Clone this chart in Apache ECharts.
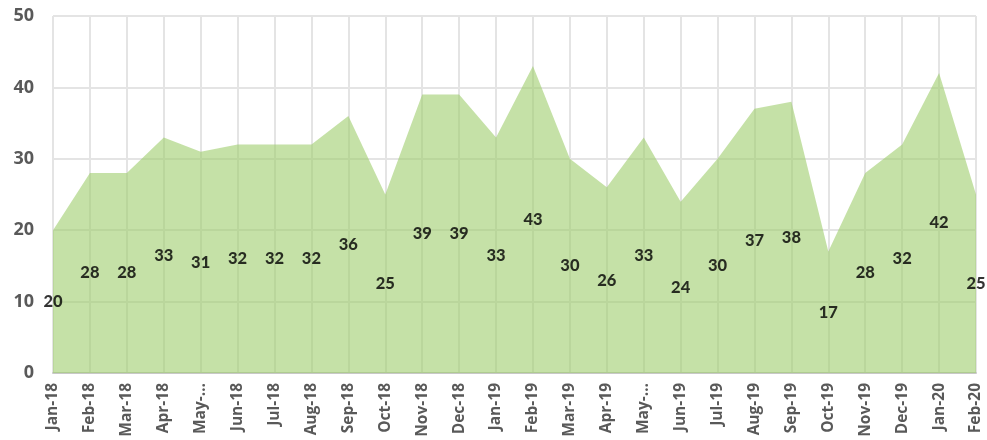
<!DOCTYPE html>
<html>
<head>
<meta charset="utf-8">
<script src="https://cdn.jsdelivr.net/npm/echarts@6/dist/echarts.min.js"></script>
<style>
  html, body { margin: 0; padding: 0; background: #fff; }
  #main { width: 987px; height: 440px; }
</style>
</head>
<body>
<div id="main"></div>
<script>
// month labels as shown on the axis
var tickLabels = ['Jan-18', 'Feb-18', 'Mar-18', 'Apr-18', 'May-…', 'Jun-18', 'Jul-18', 'Aug-18', 'Sep-18', 'Oct-18', 'Nov-18', 'Dec-18',
  'Jan-19', 'Feb-19', 'Mar-19', 'Apr-19', 'May-…', 'Jun-19', 'Jul-19', 'Aug-19', 'Sep-19', 'Oct-19', 'Nov-19', 'Dec-19', 'Jan-20', 'Feb-20']
var values = [20, 28, 28, 33, 31, 32, 32, 32, 36, 25, 39, 39, 33, 43, 30, 26, 33, 24, 30, 37, 38, 17, 28, 32, 42, 25]
var yTicks = [0, 10, 20, 30, 40, 50]

// excel puts area labels in the middle of the column
var labelPoints = values.map(function (v) { return v / 2 })

var chart = echarts.init(document.getElementById('main'))
chart.setOption({
  animation: false,
  grid: { left: 53, right: 11, top: 16, bottom: 67 },
  xAxis: {
    type: 'category',
    data: tickLabels,
    boundaryGap: false,
    axisLine: { lineStyle: { color: '#c8c8c8', width: 2 } },
    axisTick: { show: false },
    axisLabel: {
      rotate: 90,
      margin: 10,
      interval: 0,
      color: '#595959',
      fontSize: 15.5,
      fontWeight: 'bold',
      fontFamily: '"Open Sans", sans-serif'
    },
    splitLine: { show: true, lineStyle: { color: '#e4e4e4', width: 2 } }
  },
  yAxis: {
    type: 'value',
    min: yTicks[0],
    max: yTicks[yTicks.length - 1],
    interval: 10,
    axisLine: { show: false },
    axisTick: { show: false },
    axisLabel: {
      margin: 19,
      color: '#595959',
      fontSize: 18,
      fontWeight: 'bold',
      fontFamily: '"Open Sans", sans-serif'
    },
    splitLine: { lineStyle: { color: '#e4e4e4', width: 2 } }
  },
  series: [
    {
      type: 'line',
      data: values,
      symbol: 'none',
      lineStyle: { width: 0 },
      areaStyle: { color: '#9fcd6c', opacity: 0.6 },
      z: 2
    },
    {
      type: 'scatter',
      data: labelPoints,
      symbolSize: 0,
      z: 3,
      label: {
        show: true,
        position: 'inside',
        color: '#000',
        fontSize: 16.5,
        fontWeight: 900,
        fontFamily: 'Lato, "Open Sans", sans-serif',
        formatter: function (p) { return values[p.dataIndex] }
      }
    }
  ]
})
</script>
</body>
</html>
